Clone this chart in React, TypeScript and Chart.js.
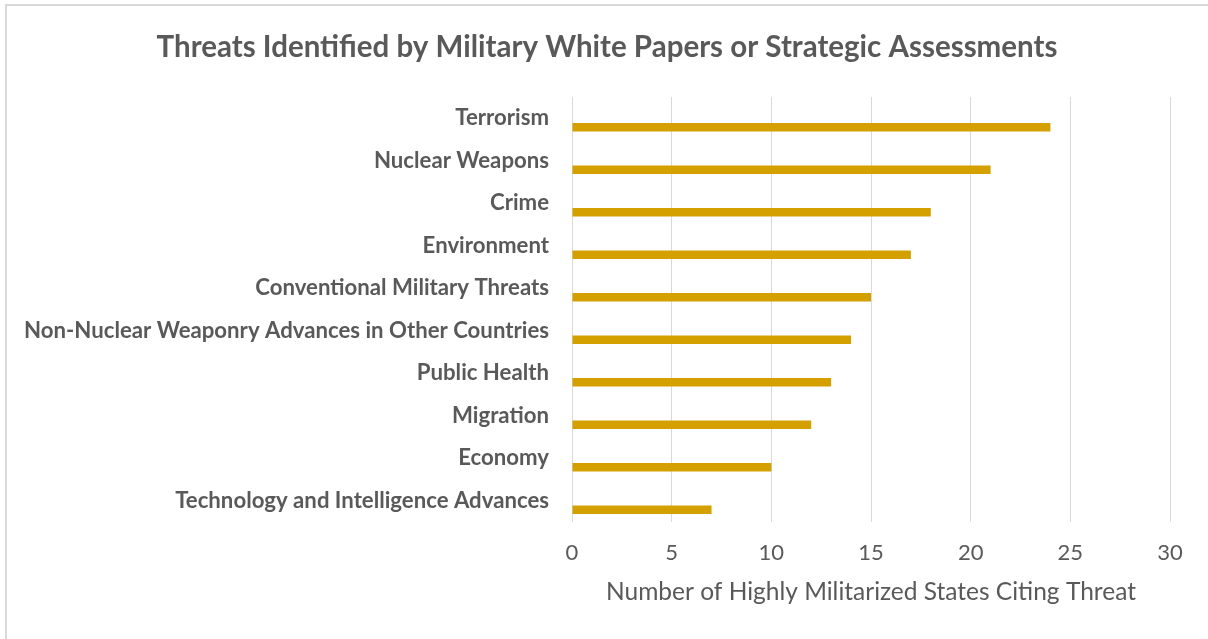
import React, { useEffect, useRef } from "react";
import { Chart, registerables } from "chart.js";

Chart.register(...registerables);

const categories = [
  "Terrorism",
  "Nuclear Weapons",
  "Crime",
  "Environment",
  "Conventional Military Threats",
  "Non-Nuclear Weaponry Advances in Other Countries",
  "Public Health",
  "Migration",
  "Economy",
  "Technology and Intelligence Advances",
];
const spacerValues = [null, null, null, null, null, null, null, null, null, null];
const citingStates = [24, 21, 18, 17, 15, 14, 13, 12, 10, 7];
const xTicks = [0, 5, 10, 15, 20, 25, 30];

const TEXT = "#595959";
const FONT = "Lato, 'Open Sans', sans-serif";

export default function App() {
  const ref = useRef<HTMLCanvasElement | null>(null);

  useEffect(() => {
    document.body.style.margin = "0";
    const canvas = ref.current;
    if (!canvas) return;
    const chart = new Chart(canvas, {
      type: "bar",
      data: {
        labels: categories,
        datasets: [
          {
            label: "spacer",
            data: spacerValues as any,
            backgroundColor: "rgba(0,0,0,0)",
          },
          {
            label: "Number of Highly Militarized States Citing Threat",
            data: citingStates,
            backgroundColor: "#D4A000",
            borderWidth: 0,
          },
        ],
      },
      options: {
        indexAxis: "y",
        animation: false,
        responsive: false,
        maintainAspectRatio: false,
        datasets: {
          bar: {
            categoryPercentage: 0.85,
            barPercentage: 0.47,
          },
        },
        layout: { padding: { left: 6, right: 0, top: 0, bottom: 32 } },
        plugins: {
          legend: { display: false },
          tooltip: { enabled: false },
          title: {
            display: true,
            text: "Threats Identified by Military White Papers or Strategic Assessments",
            color: TEXT,
            font: { family: FONT, size: 29.5, weight: "bold", lineHeight: 1.2 },
            padding: { top: 29.3, bottom: 32.3 },
          },
        },
        scales: {
          x: {
            type: "linear",
            min: 0,
            max: 30,
            afterBuildTicks: (scale: any) => {
              scale.ticks = xTicks.map((v) => ({ value: v }));
            },
            afterFit: (scale: any) => {
              scale.height = 85;
            },
            grid: { color: "#d9d9d9", lineWidth: 1, drawTicks: false, tickLength: 0 },
            border: { display: false },
            ticks: {
              color: TEXT,
              padding: 18,
              font: { family: FONT, size: 22, lineHeight: 1.2 },
            },
            title: {
              display: true,
              text: "Number of Highly Militarized States Citing Threat",
              color: TEXT,
              font: { family: FONT, size: 24.5, lineHeight: 1.2 },
              padding: { top: 10, bottom: 0 },
            },
          },
          y: {
            type: "category",
            grid: { display: false, drawTicks: false, tickLength: 0 },
            border: { display: false },
            afterFit: (scale: any) => {
              scale.width = 566;
            },
            ticks: {
              color: TEXT,
              padding: 23,
              font: { family: FONT, size: 22.2, weight: "bold", lineHeight: 1.2 },
            },
          },
          rightGap: {
            type: "linear",
            axis: "y",
            position: "right",
            min: 0,
            max: 1,
            grid: { display: false, drawTicks: false },
            border: { display: false },
            ticks: { display: false },
            afterFit: (scale: any) => {
              scale.width = 38;
            },
          },
        },
      },
    });
    return () => chart.destroy();
  }, []);

  return (
    <div style={{ position: "relative", width: 1208, height: 639, background: "#fff" }}>
      <canvas ref={ref} width={1208} height={639} style={{ display: "block" }} />
      <div style={{ position: "absolute", left: 5, top: 4, width: 1203, height: 2, background: "#d9d9d9" }} />
      <div style={{ position: "absolute", left: 5, top: 4, width: 2, height: 635, background: "#d9d9d9" }} />
    </div>
  );
}
